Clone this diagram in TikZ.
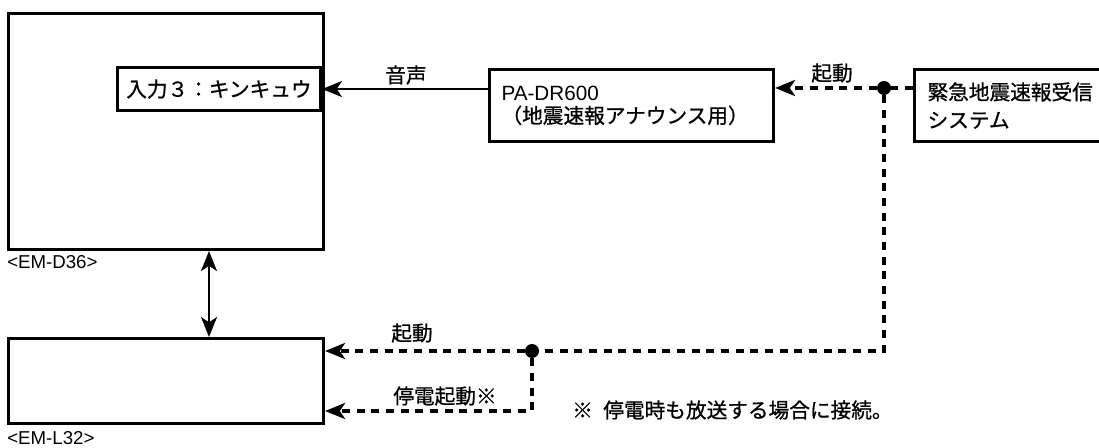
\documentclass[tikz,border=0pt]{standalone}
\usepackage{fontspec}
\setmainfont{Liberation Sans}
\newfontfamily\jp[FakeBold=0.8]{Noto Sans CJK JP}
\usetikzlibrary{arrows.meta}
\begin{document}
\begin{tikzpicture}[x=0.75pt,y=-0.75pt,
  box/.style={draw,line width=2.3pt},
  conn/.style={line width=1.7pt},
  dsh/.style={line width=2.6pt,dash pattern=on 6pt off 5pt},
  tip/.style={-{Stealth[length=15pt,width=12pt,inset=4pt]}},
  lbl/.style={font=\jp\fontsize{15.5}{18}\selectfont,inner sep=0pt},
  model/.style={font=\fontsize{14}{16}\selectfont,inner sep=0pt,anchor=west},
  dot/.style={circle,fill,inner sep=0pt,minimum size=10.5pt}]
\clip (0,0) rectangle (1099,448);
\fill[white] (0,0) rectangle (1099,448);

% devices
\node[box,anchor=north west,minimum width=236.25pt,minimum height=177pt] (d36) at (7,12) {};
\node[box,anchor=north east,minimum width=152.25pt,minimum height=32.25pt,inner sep=0pt,lbl] (inp) at (322,66) {入力３：キンキュウ};
\node[box,anchor=north west,minimum width=213pt,minimum height=54pt,inner xsep=9pt,inner ysep=0pt,text width=195pt,align=left,font=\fontsize{15.5}{17.25}\selectfont] (pa) at (488,68) {PA-DR600\\{\jp （地震速報アナウンス用）}};
\node[box,anchor=north west,minimum width=155.25pt,minimum height=54pt,inner xsep=9.75pt,inner ysep=0pt,text width=135.75pt,align=left,font=\jp\fontsize{15.5}{21}\selectfont] (eew) at (913,68) {緊急地震速報受信\\システム};
\node[box,anchor=north west,minimum width=236.25pt,minimum height=63.75pt] (l32) at (7,337) {};

\node[model] (t36) at (7,262) {<EM-D36>};
\node[model] (t32) at (7,438) {<EM-L32>};

% audio
\draw[conn,tip] (inp.east -| pa.west) -- (inp.east);
\node[lbl] (audio) at (406,75) {音声};

% trigger lines
\node[dot] (d1) at (884,88) {};
\draw[dsh] (d1 -| eew.west) -- (d1);
\draw[dsh,tip] (d1) -- (d1 -| pa.east);
\node[lbl] (start1) at (832,73) {起動};

\coordinate (c1) at (884,351);
\node[dot] (d2) at (532,351) {};
\draw[dsh] (d1) -- (c1) -- (d2);
\draw[dsh,tip] (d2) -- (d2 -| l32.east);
\node[lbl] (start2) at (412,333) {起動};

\coordinate (c2) at (532,411);
\draw[dsh,tip] (d2) -- (c2) -- (c2 -| l32.east);
\node[lbl] (start3) at (445,396) {停電起動※};

% link between D36 and L32
\coordinate (ax) at (209,0);
\draw[conn,{Stealth[length=15pt,width=12pt,inset=4pt]}-{Stealth[length=15pt,width=12pt,inset=4pt]}] (d36.south -| ax) -- (l32.north -| ax);

% note
\node[lbl,anchor=west] (note) at (572,410) {※\hspace{0.5em}停電時も放送する場合に接続。};
\end{tikzpicture}
\end{document}
